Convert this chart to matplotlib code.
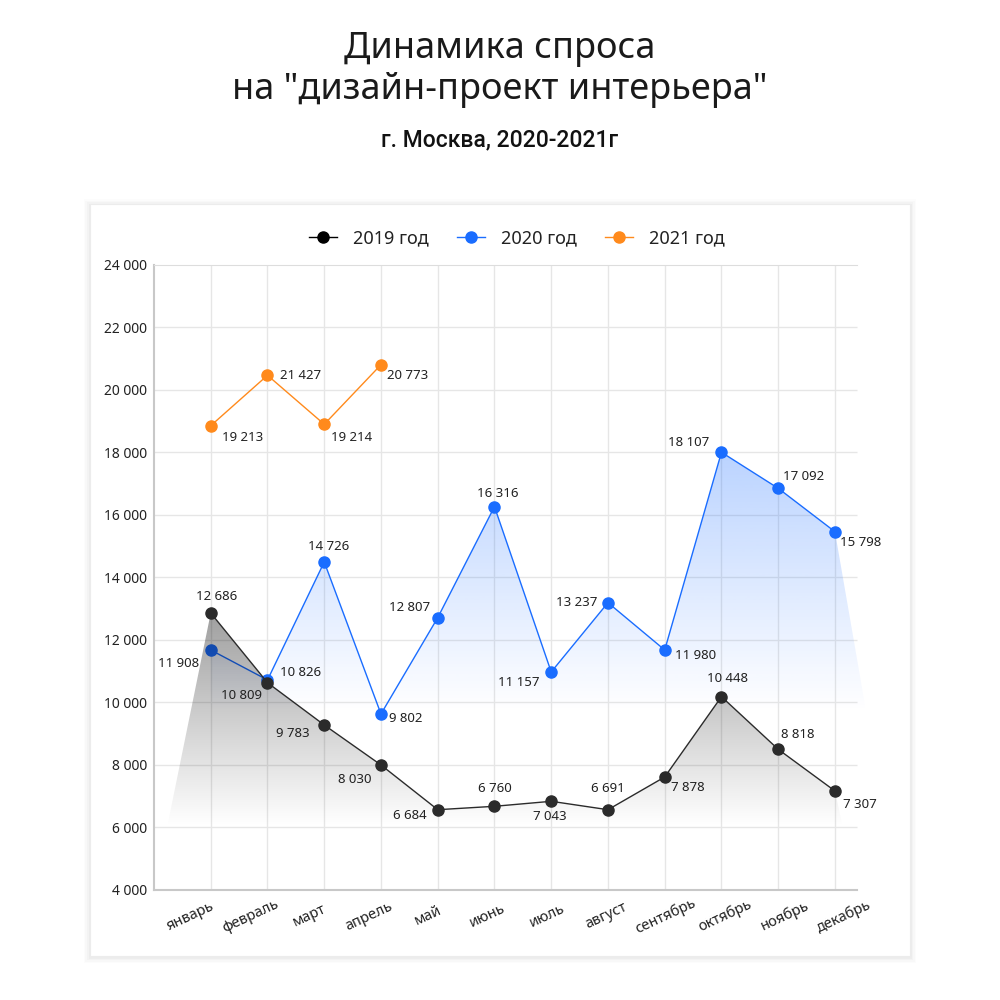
import numpy as np
import matplotlib.pyplot as plt
import matplotlib.colors as mcolors
import matplotlib.transforms as mtransforms
from matplotlib.patches import Polygon, Rectangle

plt.rcParams['font.family'] = ['Noto Sans', 'DejaVu Sans']

months = ["январь", "февраль", "март", "апрель", "май", "июнь",
          "июль", "август", "сентябрь", "октябрь", "ноябрь", "декабрь"]

# point heights as drawn, and the numbers printed next to them
y2019 = [12858, 10627, 9274, 7994, 6563, 6672, 6832, 6563, 7610, 10180, 8496, 7162]
lab2019 = ["12 686", "10 809", "9 783", "8 030", "6 684", "6 760",
           "7 043", "6 691", "7 878", "10 448", "8 818", "7 307"]
y2020 = [11674, 10714, 14490, 9626, 12708, 16260, 10970, 13188, 11674, 18000, 16848, 15459]
lab2020 = ["11 908", "10 826", "14 726", "9 802", "12 807", "16 316",
           "11 157", "13 237", "11 980", "18 107", "17 092", "15 798"]
y2021 = [18851, 20464, 18896, 20803]
lab2021 = ["19 213", "21 427", "19 214", "20 773"]

c19, c20, c21 = "#2b2b2b", "#1a6dff", "#ff8a1c"

# label offsets in pixels (dx, dy up, alignment)
off2019 = [(6, 16, "center"), (-5, -13, "right"), (-15, -9, "right"), (-9, -15, "right"),
           (-11, -6, "right"), (0, 18, "center"), (-1, -15, "center"), (0, 21, "center"),
           (6, -11, "left"), (6, 18, "center"), (3, 15, "left"), (8, -14, "left")]
off2020 = [(-12, -14, "right"), (13, 7, "left"), (4, 15, "center"), (8, -5, "left"),
           (-8, 10, "right"), (3, 13, "center"), (-12, -11, "right"), (-11, 0, "right"),
           (10, -6, "left"), (-12, 10, "right"), (5, 12, "left"), (5, -11, "left")]
off2021 = [(11, -12, "left"), (13, 0, "left"), (7, -13, "left"), (6, -11, "left")]

fig = plt.figure(figsize=(10, 10), dpi=100)
fig.patch.set_facecolor("white")

# card with soft shadow
for i, a in enumerate([0.025, 0.02, 0.015, 0.01]):
    d = (i + 1) * 0.0015
    fig.add_artist(Rectangle((0.09 - d, 0.044 - d - 0.001), 0.82 + 2 * d, 0.752 + 2 * d,
                             transform=fig.transFigure, facecolor="black", alpha=a,
                             edgecolor="none", zorder=-3))
fig.add_artist(Rectangle((0.09, 0.044), 0.82, 0.752, transform=fig.transFigure,
                         facecolor="white", edgecolor="#ececec", lw=0.8, zorder=-2))

fig.text(0.5, 0.951, "Динамика спроса", ha="center", va="center", fontsize=26,
         color="#1a1a1a")
fig.text(0.5, 0.910, "на \"дизайн-проект интерьера\"", ha="center", va="center",
         fontsize=26, color="#1a1a1a")
fig.text(0.5, 0.860, "г. Москва, 2020-2021г", ha="center", va="center", fontsize=16.5,
         color="#111111", family=["Roboto", "DejaVu Sans"], fontweight="medium")

# axes reach a bit past the last grid line so the blue area can run out to the right
ax = fig.add_axes([0.154, 0.1102, 0.715, 0.625])
ax.set_facecolor("none")
xmax_grid = 11.38

x = np.arange(12)


def gradient_fill(xs, ys, color, a_top, y_top, y_bot, z):
    poly = Polygon(np.column_stack([xs, ys]), closed=True, facecolor="none", edgecolor="none")
    ax.add_patch(poly)
    img = np.zeros((256, 1, 4))
    img[..., :3] = mcolors.to_rgb(color)
    img[:, 0, 3] = a_top * np.linspace(1, 0, 256)
    im = ax.imshow(img, extent=[-1, 12, y_bot, y_top], aspect="auto", origin="upper",
                   interpolation="bilinear", zorder=z)
    im.set_clip_path(poly)


# 2020 area and line
gradient_fill(list(x) + [11.55, 0], y2020 + [9700, 9700], c20, 0.3, 18000, 9700, 1)
ax.plot(x, y2020, color=c20, lw=1, marker="o", ms=8, zorder=2)

# 2019 area drawn over the blue line
gradient_fill([-0.77] + list(x) + [11.14], [6000] + y2019 + [6000], "black", 0.38, 12858, 6000, 3)
ax.plot(x, y2019, color=c19, lw=1, marker="o", ms=8, zorder=4)

ax.plot(x[:4], y2021, color=c21, lw=1, marker="o", ms=8, zorder=4)

for vals, labs, offs in [(y2019, lab2019, off2019), (y2020, lab2020, off2020),
                         (y2021, lab2021, off2021)]:
    for xi, v, t, (dx, dy, ha) in zip(x, vals, labs, offs):
        ax.annotate(t, (xi, v), xytext=(dx, dy), textcoords="offset pixels",
                    ha=ha, va="center", fontsize=9.5, color="#222222", zorder=5)

ax.set_xlim(-1, 11.6)
ax.set_ylim(4000, 24000)
yt = np.arange(4000, 24001, 2000)
ax.set_yticks(yt)
ax.set_yticklabels([f"{v:,}".replace(",", " ") for v in yt], fontsize=10, color="#222222")
ax.set_xticks(x)
ax.set_xticklabels(months, fontsize=10.5, color="#222222", rotation=25, ha="center",
                   va="center", rotation_mode="anchor")
ax.tick_params(axis="both", length=0)
ax.tick_params(axis="y", pad=5)
ax.tick_params(axis="x", pad=19)
for i, lbl in enumerate(ax.get_xticklabels()):
    shift = (-20 + i * 2.65) / 100
    lbl.set_transform(lbl.get_transform() + mtransforms.ScaledTranslation(shift, 0, fig.dpi_scale_trans))

ax.grid(True, axis="x", color="#e6e6e6", lw=1, zorder=0)
ax.hlines(yt[1:-1], -1, xmax_grid, color="#e6e6e6", lw=1, zorder=0)
ax.set_axisbelow(True)
ax.spines["right"].set_visible(False)
ax.spines["top"].set_color("#dddddd")
ax.spines["top"].set_bounds(-1, xmax_grid)
ax.spines["left"].set_color("#c8c8c8")
ax.spines["bottom"].set_color("#c8c8c8")
ax.spines["bottom"].set_bounds(-1, xmax_grid)
ax.spines["left"].set_linewidth(1.5)
ax.spines["bottom"].set_linewidth(1.5)

h19 = plt.Line2D([], [], color="black", lw=1, marker="o", ms=8)
h20 = plt.Line2D([], [], color=c20, lw=1, marker="o", ms=8)
h21 = plt.Line2D([], [], color=c21, lw=1, marker="o", ms=8)
leg = ax.legend([h19, h20, h21], ["2019 год", "2020 год", "2021 год"], loc="center",
                bbox_to_anchor=(0.517, 0.762), bbox_transform=fig.transFigure, ncol=3,
                frameon=False, fontsize=13, handlelength=1.55, handletextpad=0.9,
                columnspacing=1.55)
for t in leg.get_texts():
    t.set_color("#222222")

fig.savefig("out.png", dpi=100, facecolor="white")
